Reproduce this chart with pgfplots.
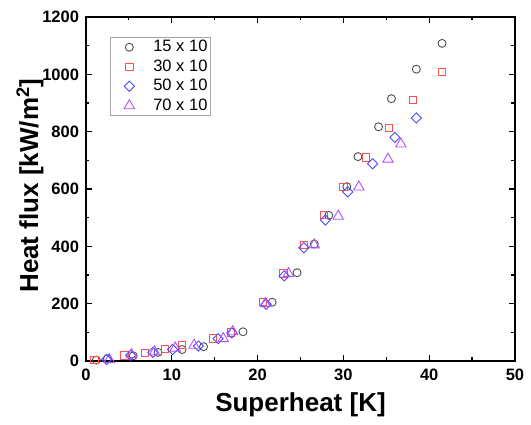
\documentclass[border=0pt]{standalone}
\usepackage{pgfplots}
\pgfplotsset{compat=1.18}
\usepackage{fontspec}
\setmainfont{Liberation Sans}
\definecolor{cgray}{HTML}{505050}
\definecolor{cred}{HTML}{FF5050}
\definecolor{cblue}{HTML}{4848FF}
\definecolor{cviolet}{HTML}{B050FF}
\begin{document}
\begin{tikzpicture}
\useasboundingbox (-86pt,-64pt) rectangle (445pt,361pt);
\begin{axis}[
  at={(0pt,0pt)}, anchor=south west,
  scale only axis, width=429pt, height=344pt,
  xmin=0, xmax=50, ymin=0, ymax=1200,
  xtick={0,10,...,50}, minor xtick={5,15,...,45},
  ytick={0,200,...,1200}, minor ytick={100,300,...,1100},
  tick align=inside,
  major tick length=6pt, minor tick length=3.5pt,
  axis line style={line width=1.4pt},
  every tick/.style={line width=1.2pt, black},
  /pgf/number format/1000 sep={},
  /pgf/number format/assume math mode=true,
  tick label style={font=\fontsize{16.5}{18}\selectfont\bfseries},
  xticklabel style={yshift=-4pt},
  yticklabel style={xshift=-3.5pt},
  xlabel={Superheat [K]},
  ylabel={Heat flux [kW/m\textsuperscript{2}]},
  label style={font=\fontsize{26}{30}\selectfont\bfseries},
  xlabel style={at={(axis description cs:0.5,-0.128)}, anchor=center},
  ylabel style={at={(axis description cs:-0.1305,0.51)}, anchor=center},
  legend style={at={(axis description cs:0.056,0.942)}, anchor=north west,
    draw=gray!70, line width=0.6pt, inner xsep=1pt, inner ysep=2pt,
    font=\fontsize{16.5}{19}\selectfont, row sep=3.5pt,
    nodes={inner xsep=2pt, inner ysep=1pt, text height=11.5pt, text depth=2.5pt}},
  legend cell align=left,
  legend image code/.code={\path[draw=none,fill=none] (0pt,-1pt) rectangle (40pt,1pt); \draw[mark repeat=2,mark phase=2,only marks] plot coordinates {(0pt,0pt) (18pt,0pt) (40pt,0pt)};},
]
\addplot[only marks, mark=o, mark size=4pt, draw=cgray, line width=0.9pt] coordinates {
(1.2,3) (2.5,8) (5.5,18) (8.4,30) (11.2,40) (13.7,50) (18.3,102) (21.7,205) (24.6,308) (26.6,408) (28.3,508) (30.4,608) (31.7,713) (34.1,817) (35.6,915) (38.5,1018) (41.5,1108)
};
\addlegendentry{15 x 10}
\addplot[only marks, mark=square, mark size=3.7pt, draw=cred, line width=0.9pt] coordinates {
(1.0,3) (4.5,20) (6.9,28) (9.2,42) (11.2,55) (14.8,78) (16.9,100) (20.6,205) (23.0,305) (25.4,405) (27.7,510) (30.0,608) (32.6,710) (35.3,812) (38.1,910) (41.5,1008)
};
\addlegendentry{30 x 10}
\addplot[only marks, mark=square, mark options={rotate=45}, mark size=3.6pt, draw=cblue, line width=0.9pt] coordinates {
(2.4,5) (5.2,20) (7.8,30) (10.1,40) (13.1,52) (15.4,78) (17.0,98) (21.0,198) (23.1,297) (25.4,395) (27.9,492) (30.5,590) (33.4,688) (36.0,780) (38.5,848)
};
\addlegendentry{50 x 10}
\addplot[only marks, mark=triangle, mark size=6pt, draw=cviolet, line width=0.9pt] coordinates {
(2.7,5) (5.3,22) (8.0,32) (10.4,45) (12.6,55) (16.0,78) (17.1,102) (20.9,200) (23.6,305) (26.6,405) (29.4,505) (31.8,607) (35.2,704) (36.7,757)
};
\addlegendentry{70 x 10}
\end{axis}
\end{tikzpicture}
\end{document}
